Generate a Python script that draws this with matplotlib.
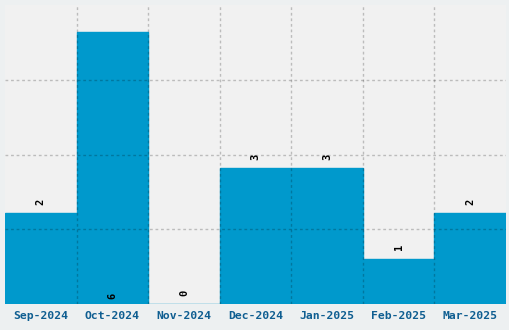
import matplotlib
matplotlib.use("Agg")
import matplotlib.pyplot as plt
from matplotlib.ticker import FixedLocator, NullFormatter

months = ["Sep-2024", "Oct-2024", "Nov-2024", "Dec-2024", "Jan-2025", "Feb-2025", "Mar-2025"]
counts = [2, 6, 0, 3, 3, 1, 2]

fig = plt.figure(figsize=(5.1, 3.3), dpi=100)
fig.patch.set_facecolor("#edf0f1")
ax = fig.add_axes([5/510, 26/330, 501/510, 299/330])
ax.set_facecolor("#f1f1f1")

x = list(range(len(months)))
ax.bar(x, counts, width=1.0, color="#0099cc", edgecolor="#0099cc", linewidth=1, zorder=2)

ymax = max(counts) * 1.1
ax.set_ylim(0, ymax)
ax.set_xlim(-0.5, len(months) - 0.5)
ax.set_yticks([ymax * i / 4 for i in range(1, 4)])
ax.yaxis.set_major_formatter(NullFormatter())
ax.tick_params(axis="y", length=0)
ax.set_xticks(x)
ax.set_xticklabels(months, fontfamily="DejaVu Sans Mono", fontweight="bold",
                   fontsize=8.2, color="#0f5e91")
ax.tick_params(axis="x", length=0, pad=5)
ax.xaxis.set_minor_locator(FixedLocator([i + 0.5 for i in range(len(months) - 1)]))
ax.tick_params(axis="x", which="minor", length=0)

gridkw = dict(color="black", alpha=0.22, linestyle=(0, (2, 2)), linewidth=1)
ax.grid(axis="y", which="major", zorder=3, **gridkw)
ax.grid(axis="x", which="minor", zorder=3, **gridkw)
ax.set_axisbelow(False)
for s in ax.spines.values():
    s.set_visible(False)

for xi, v in zip(x, counts):
    if v >= max(counts):
        y = 0.18
    elif v == 0:
        y = 0.25
    else:
        y = v + 0.25
    ax.text(xi, y, str(v), rotation=90, ha="center", va="center",
            fontfamily="DejaVu Sans Mono", fontweight="bold", fontsize=7.5, color="black", zorder=4)

fig.savefig("out.png", dpi=100, facecolor=fig.get_facecolor())
